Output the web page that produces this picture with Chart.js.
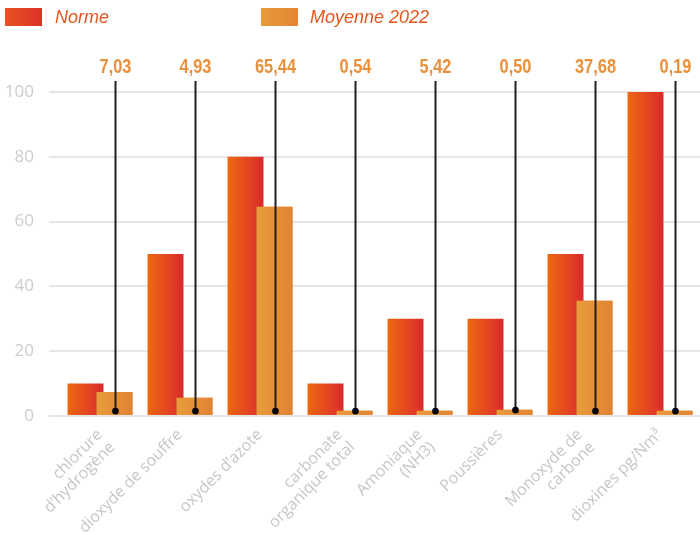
<!DOCTYPE html>
<html>
<head>
<meta charset="utf-8">
<script src="https://cdn.jsdelivr.net/npm/chart.js@4/dist/chart.umd.min.js"></script>
<style>
  html, body { margin: 0; padding: 0; background: #fff; }
  .wrap { position: relative; width: 700px; height: 535px; }
  .swatch { position: absolute; top: 8px; width: 37px; height: 18px; }
  .legend-text { position: absolute; top: 6px; font-family: "Liberation Sans", Arial, sans-serif; font-style: italic; font-size: 18px; line-height: 22px; color: #e4561f; }
</style>
</head>
<body>
<div class="wrap">
  <div class="swatch" style="left:5px;background:linear-gradient(90deg,#e9531f,#da3128)"></div>
  <div class="legend-text" style="left:55px">Norme</div>
  <div class="swatch" style="left:261px;background:linear-gradient(90deg,#e8993a,#e38634)"></div>
  <div class="legend-text" style="left:310px">Moyenne 2022</div>
  <canvas id="chart" width="700" height="535"></canvas>
</div>
<script>
// categories (multi-line labels as arrays)
const categories = [
  ["chlorure", "d\u2019hydrog\u00e8ne"],
  "dioxyde de souffre",
  "oxydes d\u2019azote",
  ["carbonate", "organique total"],
  ["Amoniaque", "(NH3)"],
  "Poussi\u00e8res",
  ["Monoxyde de", "carbone"],
  "dioxines pg/Nm\u00b3"
];
const normeValues = [10, 50, 80, 10, 30, 30, 50, 100];
const moyenneValues = [7.4, 5.6, 64.6, 1.6, 1.6, 1.9, 35.6, 1.6];
// labels shown above the black marker lines
const moyenneLabels = ["7,03", "4,93", "65,44", "0,54", "5,42", "0,50", "37,68", "0,19"];
// where the marker dot sits on each line
const dotValues = [1.5, 1.5, 1.5, 1.5, 1.5, 1.8, 1.5, 1.5];
const yTicks = [0, 20, 40, 60, 80, 100];

const CAT_PCT = 0.725;
const BAR_PCT = 1.24;

// horizontal gradient across each bar
function barGradient(from, to) {
  return (ctx) => {
    const chart = ctx.chart;
    const xs = chart.scales.x;
    if (!xs || !chart.chartArea) return to;
    const center = xs.getPixelForValue(ctx.dataIndex);
    const step = (xs.width / categories.length) * CAT_PCT / 2;
    const barX = center + (ctx.datasetIndex === 0 ? -step / 2 : step / 2);
    const half = step * BAR_PCT / 2;
    const g = chart.ctx.createLinearGradient(barX - half, 0, barX + half, 0);
    g.addColorStop(0, from);
    g.addColorStop(1, to);
    return g;
  };
}

const markerLines = {
  id: "markerLines",
  afterDatasetsDraw(chart) {
    const ctx = chart.ctx;
    const meta = chart.getDatasetMeta(1);
    // Moyenne bars sit on top of the Norme bars
    meta.controller.draw();
    const y = chart.scales.y;
    ctx.save();
    meta.data.forEach((el, i) => {
      const x = Math.round(el.x) + 0.5;
      const yDot = y.getPixelForValue(dotValues[i]);
      ctx.strokeStyle = "#1f1f1f";
      ctx.lineWidth = 2;
      ctx.beginPath();
      ctx.moveTo(x, 81);
      ctx.lineTo(x, yDot);
      ctx.stroke();
      ctx.fillStyle = "#000";
      ctx.beginPath();
      ctx.arc(x, yDot, 3.3, 0, Math.PI * 2);
      ctx.fill();
      ctx.save();
      ctx.translate(x, 73);
      ctx.scale(0.84, 1);
      ctx.fillStyle = "#e8913a";
      ctx.font = "bold 19.5px 'Liberation Sans', Arial, sans-serif";
      ctx.textAlign = "center";
      ctx.textBaseline = "alphabetic";
      ctx.fillText(moyenneLabels[i], 0, 0);
      ctx.restore();
    });
    ctx.restore();
  }
};

new Chart(document.getElementById("chart"), {
  type: "bar",
  data: {
    labels: categories,
    datasets: [
      {
        label: "Norme",
        data: normeValues,
        backgroundColor: barGradient("#ec6912", "#da2a2a"),
        categoryPercentage: CAT_PCT,
        barPercentage: BAR_PCT
      },
      {
        label: "Moyenne 2022",
        data: moyenneValues,
        backgroundColor: barGradient("#e79d3b", "#e38433"),
        categoryPercentage: CAT_PCT,
        barPercentage: BAR_PCT
      }
    ]
  },
  options: {
    responsive: false,
    animation: false,
    layout: { padding: { top: 92, left: 5, right: 0, bottom: 0 } },
    plugins: {
      legend: { display: false },
      tooltip: { enabled: false }
    },
    scales: {
      x: {
        grid: { display: false },
        border: { display: false },
        ticks: {
          color: "#c6c6c6",
          font: { family: "'Open Sans', sans-serif", size: 16, lineHeight: 1.1 },
          minRotation: 45,
          maxRotation: 45,
          padding: 2
        },
        afterFit: (scale) => {
          scale.height = 119;
          scale.paddingLeft = 0;
          scale.paddingRight = 0;
        }
      },
      y: {
        min: 0,
        max: 100,
        afterBuildTicks: (scale) => { scale.ticks = yTicks.map((v) => ({ value: v })); },
        afterFit: (scale) => { scale.width = 55; },
        border: { display: false },
        grid: { color: "#e6e6e6", lineWidth: 2, tickLength: 11, tickColor: "#e6e6e6" },
        ticks: {
          color: "#cccccc",
          font: { family: "'Open Sans', sans-serif", size: 17 },
          padding: 15
        }
      }
    }
  },
  plugins: [markerLines]
});
</script>
</body>
</html>
